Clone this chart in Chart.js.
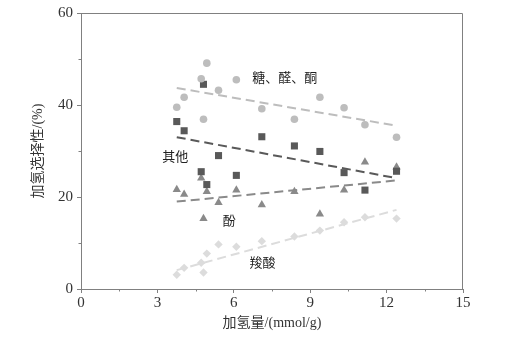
<!DOCTYPE html>
<html>
<head>
<meta charset="utf-8">
<title>加氢选择性</title>
<script src="https://cdn.jsdelivr.net/npm/chart.js@4.4.1/dist/chart.umd.min.js"></script>
<style>
  html, body { margin: 0; padding: 0; background: #fff; }
  canvas { display: block; }
</style>
</head>
<body>
<canvas id="myChart" width="525" height="341"></canvas>
<script>
// hydrogen uptake (mmol/g), shared by all four product groups
const uptake = [3.76, 4.05, 4.72, 4.81, 4.94, 5.40, 6.10, 7.10, 8.38, 9.38, 10.33, 11.15, 12.39];

// selectivity (%) for each product group
const sugars = [39.5, 41.7, 45.7, 36.9, 49.1, 43.2, 45.5, 39.2, 36.9, 41.7, 39.4, 35.7, 33.0];
const others = [36.4, 34.4, 25.5, 44.5, 22.7, 29.0, 24.7, 33.1, 31.1, 29.9, 25.3, 21.5, 25.6];
const phenols = [21.6, 20.6, 24.1, 15.3, 21.2, 18.8, 21.5, 18.3, 21.2, 16.3, 21.5, 27.6, 26.5];
const acids = [3.1, 4.6, 5.7, 3.6, 7.7, 9.7, 9.2, 10.4, 11.4, 12.7, 14.5, 15.6, 15.3];

// linear fits, value at the first and last uptake
const fitRange = [3.76, 12.39];
const sugarsFit = [43.7, 35.5];
const othersFit = [33.0, 24.1];
const phenolsFit = [19.0, 23.6];
const acidsFit = [4.1, 17.2];

const groupNames = ["糖、醛、酮", "其他", "酚", "羧酸"];

const xTicks = [0, 3, 6, 9, 12, 15];
const yTicks = [0, 20, 40, 60];
const xMinorTicks = [1.5, 4.5, 7.5, 10.5, 13.5];
const yMinorTicks = [10, 30, 50];

const axisColor = "#808080";
const textColor = "#333";
const serif = '"Liberation Serif", "Noto Sans CJK SC", serif';

const toPoints = (ys) => ys.map((y, i) => ({ x: uptake[i], y: y }));
const fitPoints = (ends) => ends.map((y, i) => ({ x: fitRange[i], y: y }));

function markers(values, style, color, radius) {
  return {
    data: toPoints(values),
    showLine: false,
    pointStyle: style,
    pointRadius: radius,
    pointBackgroundColor: color,
    pointBorderColor: color,
    pointBorderWidth: 0,
  };
}

function trend(ends, color) {
  return {
    data: fitPoints(ends),
    showLine: true,
    borderColor: color,
    borderWidth: 2,
    borderDash: [9, 5],
    pointRadius: 0,
  };
}

// top and right edges of the frame, plus the short minor ticks
const frame = {
  id: "frame",
  afterDraw(chart) {
    const { ctx, chartArea: a, scales } = chart;
    ctx.save();
    ctx.strokeStyle = axisColor;
    ctx.lineWidth = 1;
    ctx.beginPath();
    ctx.moveTo(Math.round(a.left) + 0.5, Math.round(a.top) + 0.5);
    ctx.lineTo(Math.round(a.right) - 0.5, Math.round(a.top) + 0.5);
    ctx.lineTo(Math.round(a.right) - 0.5, Math.round(a.bottom) + 0.5);
    xMinorTicks.forEach((v) => {
      const px = Math.round(scales.x.getPixelForValue(v)) + 0.5;
      ctx.moveTo(px, a.bottom);
      ctx.lineTo(px, a.bottom + 2.5);
    });
    yMinorTicks.forEach((v) => {
      const py = Math.round(scales.y.getPixelForValue(v)) + 0.5;
      ctx.moveTo(a.left, py);
      ctx.lineTo(a.left - 2.5, py);
    });
    ctx.stroke();
    ctx.restore();
  },
};

// group names written next to their points
const labelSpots = [
  { x: 8.0, y: 46.0 },
  { x: 3.7, y: 29.0 },
  { x: 5.82, y: 14.9 },
  { x: 7.13, y: 5.9 },
];

const groupLabels = {
  id: "groupLabels",
  afterDatasetsDraw(chart) {
    const { ctx, scales } = chart;
    ctx.save();
    ctx.font = '13px "Noto Sans CJK SC"';
    ctx.fillStyle = "#222";
    ctx.textAlign = "center";
    ctx.textBaseline = "middle";
    groupNames.forEach((name, i) => {
      ctx.fillText(
        name,
        scales.x.getPixelForValue(labelSpots[i].x),
        scales.y.getPixelForValue(labelSpots[i].y)
      );
    });
    ctx.restore();
  },
};

const ctx = document.getElementById("myChart").getContext("2d");
const chart = new Chart(ctx, {
  type: "scatter",
  data: {
    datasets: [
      markers(sugars, "circle", "#bdbdbd", 3.8),
      markers(others, "rect", "#595959", 5),
      markers(phenols, "triangle", "#8a8a8a", 4.8),
      markers(acids, "rectRot", "#dcdcdc", 4.2),
      trend(sugarsFit, "#bdbdbd"),
      trend(othersFit, "#595959"),
      trend(phenolsFit, "#8a8a8a"),
      trend(acidsFit, "#dcdcdc"),
    ],
  },
  options: {
    responsive: false,
    animation: false,
    layout: { padding: { top: 10, right: 62, left: 0, bottom: 0 } },
    plugins: {
      legend: { display: false },
      tooltip: { enabled: false },
    },
    scales: {
      x: {
        type: "linear",
        min: 0,
        max: 15,
        afterBuildTicks: (s) => {
          s.ticks = xTicks.map((v) => ({ value: v }));
        },
        afterFit: (s) => {
          s.height = 52;
        },
        border: { color: axisColor, width: 1 },
        grid: { drawOnChartArea: false, tickLength: 4, tickColor: axisColor },
        ticks: {
          color: textColor,
          font: { family: serif, size: 15 },
          padding: 1,
          maxRotation: 0,
        },
        title: {
          display: true,
          text: "加氢量/(mmol/g)",
          color: textColor,
          font: { family: serif, size: 14 },
          padding: { top: 0, bottom: 9.6 },
        },
      },
      y: {
        type: "linear",
        min: 0,
        max: 60,
        afterBuildTicks: (s) => {
          s.ticks = yTicks.map((v) => ({ value: v }));
        },
        afterFit: (s) => {
          s.width = 81;
        },
        border: { color: axisColor, width: 1 },
        grid: { drawOnChartArea: false, tickLength: 4, tickColor: axisColor },
        ticks: {
          color: textColor,
          font: { family: serif, size: 15 },
          padding: 4,
        },
        title: {
          display: true,
          text: "加氢选择性/(%)",
          color: textColor,
          font: { family: serif, size: 14 },
          padding: { top: 29.6, bottom: 0 },
        },
      },
    },
  },
  plugins: [frame, groupLabels],
});
</script>
</body>
</html>
